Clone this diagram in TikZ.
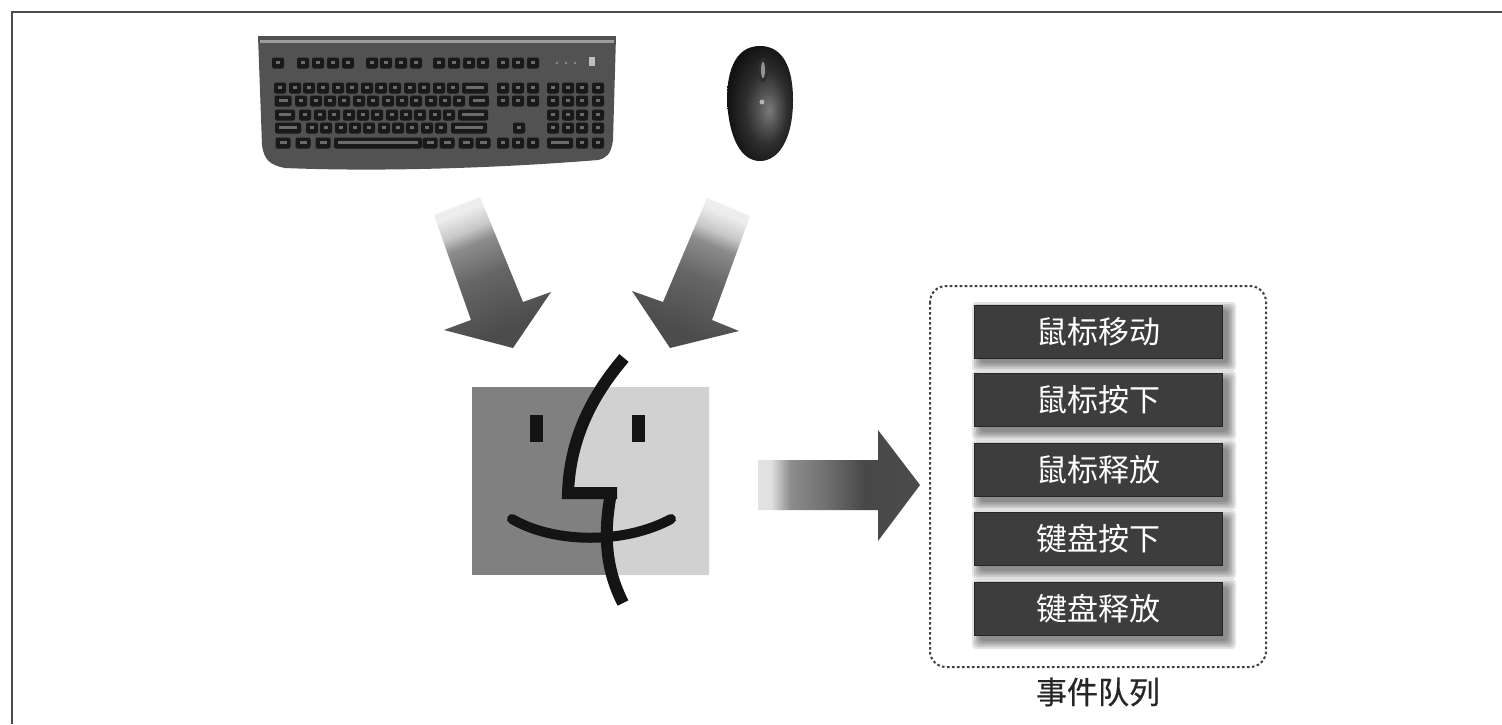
\documentclass[tikz,border=0pt]{standalone}
\usepackage{fontspec}
\newfontfamily\cjk{Noto Sans CJK SC}
\newfontfamily\cjkb[FakeBold=0.6]{Noto Sans CJK SC}
\pgfdeclareverticalshading{fadeband}{100bp}{color(0bp)=(black!70); color(30bp)=(black!70); color(50bp)=(black!60); color(62bp)=(black!45); color(67bp)=(black!22); color(74bp)=(black!7); color(100bp)=(black!5)}
\pgfdeclarehorizontalshading{fadebandh}{100bp}{color(0bp)=(black!6); color(29bp)=(black!12); color(35bp)=(black!45); color(45bp)=(black!55); color(58bp)=(black!72); color(100bp)=(black!68)}
\pgfdeclareradialshading{mouseshade}{\pgfpoint{7bp}{-3bp}}{color(0bp)=(black!52); color(8bp)=(black!68); color(16bp)=(black!82); color(28bp)=(black!93); color(50bp)=(black!95)}
\tikzset{
  x=0.5pt,y=-0.5pt,
  evbox/.style={rectangle,minimum width=124pt,minimum height=26.5pt,inner sep=0pt,fill=black!76,draw=black!85,line width=.5pt,text=white,font=\cjk\fontsize{15.5}{16}\selectfont},
  capkey/.style={fill=black!90,rounded corners=1pt},
  finderline/.style={draw=black!92,line width=6pt},
}
\newcommand{\keycap}[3][12]{\fill[capkey] ({#2-#1/2},{#3-5.5}) rectangle ({#2+#1/2},{#3+5.5}); \fill[black!58] ({#2-#1/2+4},{#3-2.5}) rectangle ({#2+#1/2-4},{#3+.5});}
\newcommand{\softshadow}[4]{%
  \foreach \g in {8,6,4,2,0}{\fill[black,opacity=.11,rounded corners=2pt] ({#1+6-\g},{#2+5-\g}) rectangle ({#3+6+\g},{#4+5+\g});}}
\begin{document}
\begin{tikzpicture}
\useasboundingbox (0,0) rectangle (1502,724);
\fill[white] (0,0) rectangle (1502,724);
% frame
\coordinate (fa) at (12,724); \coordinate (fb) at (12,12); \coordinate (fc) at (1502,12);
\draw[black!70,line width=1.1pt] (fa) -- (fb) -- (fc);
% keyboard
\fill[black!68] (258,36) -- (616,36) -- (613,140) .. controls (611,155) and (606,158) .. (598,160) .. controls (500,168) and (380,172) .. (285,168) .. controls (270,165) and (264,160) .. (262,145) -- cycle;
\fill[black!38] (260,40) rectangle (614,43);
\foreach \kx in {278,303,318,333,348,372,386,401,416,439,454,469,483,503,518,533}{\keycap{\kx}{63}}
\foreach \ky in {88,101}{\foreach \kx in {503,518,533}{\keycap{\kx}{\ky}}}
\foreach \kx in {280,295,309,323,338,352,367,381,395,410,424,439,453}{\keycap{\kx}{88}}
\keycap[26]{475}{88}
\keycap[17]{283}{101}
\foreach \kx in {301,316,330,344,359,373,388,402,416,431,445,459}{\keycap{\kx}{101}}
\keycap[20]{479}{101}
\keycap[20]{285}{115}
\foreach \kx in {305,320,334,349,363,377,392,406,420,435,449}{\keycap{\kx}{115}}
\keycap[30]{473}{115}
\keycap[26]{288}{128}
\foreach \kx in {312,326,341,355,369,384,398,412,427,441}{\keycap{\kx}{128}}
\keycap[36]{469}{128}
\keycap{519}{128}
\keycap[15]{283}{143}\keycap[15]{303}{143}\keycap[15]{323}{143}
\keycap[88]{378}{143}
\keycap[15]{430}{143}\keycap[15]{447}{143}\keycap[15]{466}{143}\keycap[15]{483}{143}
\foreach \kx in {503,518,533}{\keycap{\kx}{143}}
\foreach \ky in {88,101,115,128}{\foreach \kx in {553,568,582,598}{\keycap{\kx}{\ky}}}
\keycap[26]{560}{143}\keycap{582}{143}\keycap{598}{143}
\fill[black!25] (589,57) rectangle (595,66);
\foreach \kx in {557,566,575}{\fill[black!45] (\kx,63) circle (1.4);}
% mouse
\shade[shading=mouseshade] (760,46) .. controls (782,46) and (793,66) .. (793,100) .. controls (793,140) and (778,161) .. (760,161) .. controls (742,161) and (729,140) .. (727,100) .. controls (727,66) and (738,46) .. (760,46) -- cycle;
\fill[black!82] (763,70) ellipse [x radius=5,y radius=12];
\fill[black!42] (763,70) ellipse [x radius=2,y radius=8];
\fill[black!30] (762,102) circle (2.5);
% keyboard and mouse arrows
\path[shade,shading=fadeband,shading angle=22] (434,215) -- (480,197) -- (523,302) -- (551,292) -- (513,348) -- (444,330) -- (471,320) -- cycle;
\path[shade,shading=fadeband,shading angle=-22] (707,198) -- (750,216) -- (712,320) -- (739,331) -- (670,348) -- (632,291) -- (663,302) -- cycle;
% finder face
\fill[black!50] (472,387) rectangle (709,575);
\fill[black!18] (597,387) -- (709,387) -- (709,575) -- (612,575) -- (607,540) -- (608,493) -- (568,493) -- (575,447) -- cycle;
\fill[black!92] (530,415) rectangle (543,442);
\fill[black!92] (632,415) rectangle (645,442);
\draw[finderline,line cap=butt,line join=miter] (624,358) .. controls (595,392) and (570,435) .. (568,493) -- (617,493);
\draw[finderline,line cap=butt] (611,493) .. controls (603,535) and (606,570) .. (623,603);
\draw[finderline,line width=5pt,line cap=round] (512,519) .. controls (555,544) and (625,544) .. (671,519);
% output arrow
\path[shade,shading=fadebandh] (758,460) -- (878,460) -- (878,430) -- (920,485) -- (878,541) -- (878,510) -- (758,510) -- cycle;
% event queue
\draw[black!75,line width=1pt,dash pattern=on 1.3pt off 1.2pt,rounded corners=8pt] (930,286) rectangle (1266,667);
\softshadow{974}{305}{1222}{358}
\softshadow{974}{374}{1222}{427}
\softshadow{974}{443}{1222}{497}
\softshadow{974}{513}{1222}{566}
\softshadow{974}{582}{1222}{636}
\node[evbox] (e1) at (1098,332) {鼠标移动};
\node[evbox] (e2) at (1098,400) {鼠标按下};
\node[evbox] (e3) at (1098,470) {鼠标释放};
\node[evbox] (e4) at (1098,539) {键盘按下};
\node[evbox] (e5) at (1098,609) {键盘释放};
\node[font=\cjkb\fontsize{15.5}{16}\selectfont,text=black!85,inner sep=0pt] (cap) at (1098,692) {事件队列};
\end{tikzpicture}
\end{document}
